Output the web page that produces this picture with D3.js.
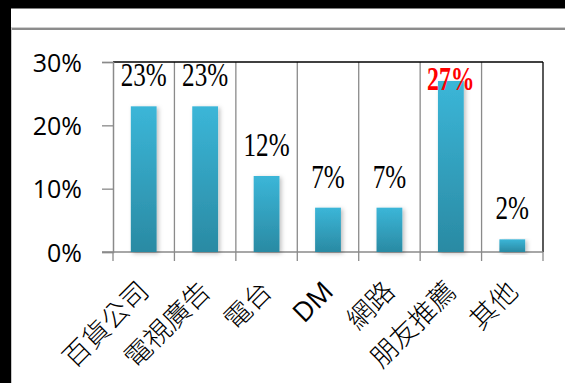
<!DOCTYPE html>
<html>
<head>
<meta charset="utf-8">
<script src="https://cdn.jsdelivr.net/npm/d3@7"></script>
<style>
  html, body { margin: 0; padding: 0; background: #fff; }
  svg { display: block; }
</style>
</head>
<body>
<svg id="chart" width="565" height="383"></svg>
<script>
// Survey: where respondents heard about us (share of answers)
const categories = ["百貨公司", "電視廣告", "電台", "DM", "網路", "朋友推薦", "其他"];
const values = [23, 23, 12, 7, 7, 27, 2];
const yTicks = [0, 10, 20, 30];
const yTickLabels = ["0%", "10%", "20%", "30%"];
const highlight = "朋友推薦";

const svg = d3.select("#chart");
const W = 565, H = 383;
const plot = { left: 113, right: 543, top: 62, bottom: 252 };

// Window frame
svg.append("rect").attr("x", 0).attr("y", 0).attr("width", W).attr("height", 8.5).attr("fill", "#000");
svg.append("rect").attr("x", 0).attr("y", 0).attr("width", 11).attr("height", H).attr("fill", "#000");
svg.append("line").attr("x1", 11).attr("x2", W).attr("y1", 27.5).attr("y2", 27.5).attr("stroke", "#cfcfcf").attr("stroke-width", 1);
svg.append("line").attr("x1", 11).attr("x2", W).attr("y1", 29).attr("y2", 29).attr("stroke", "#8c8c8c").attr("stroke-width", 2);
svg.append("line").attr("x1", 11.5).attr("x2", 11.5).attr("y1", 28).attr("y2", H).attr("stroke", "#c8c8c8").attr("stroke-width", 1);

const x = d3.scaleBand().domain(categories).range([plot.left, plot.right]).padding(0);
const y = d3.scaleLinear().domain([0, 30]).range([plot.bottom, plot.top]);

const defs = svg.append("defs");
const grad = defs.append("linearGradient").attr("id", "barGrad")
  .attr("x1", 0).attr("y1", 0).attr("x2", 0).attr("y2", 1);
grad.append("stop").attr("offset", "0%").attr("stop-color", "#3bb6d8");
grad.append("stop").attr("offset", "100%").attr("stop-color", "#2a8aa3");
const shadow = defs.append("filter").attr("id", "barShadow")
  .attr("x", "-30%").attr("y", "-10%").attr("width", "160%").attr("height", "130%");
shadow.append("feDropShadow").attr("dx", 2).attr("dy", 1.5).attr("stdDeviation", 2)
  .attr("flood-color", "#000").attr("flood-opacity", 0.25);

// Vertical gridlines at category boundaries
const bounds = categories.map(c => x(c)).concat([plot.right]);
svg.append("g").selectAll("line").data(bounds.slice(1, -1)).join("line")
  .attr("x1", d => d).attr("x2", d => d)
  .attr("y1", plot.top).attr("y2", plot.bottom)
  .attr("stroke", "#8a8a8a").attr("stroke-width", 1.3);

// Plot border (top and right)
svg.append("line").attr("x1", plot.left).attr("x2", plot.right).attr("y1", plot.top).attr("y2", plot.top)
  .attr("stroke", "#000").attr("stroke-width", 1.3);
svg.append("line").attr("x1", plot.right).attr("x2", plot.right).attr("y1", plot.top).attr("y2", plot.bottom)
  .attr("stroke", "#000").attr("stroke-width", 1.3);

// Y axis
const yAxis = svg.append("g").attr("transform", `translate(${plot.left},0)`)
  .call(d3.axisLeft(y).tickValues(yTicks).tickSize(11).tickFormat((d, i) => yTickLabels[i]));
yAxis.select(".domain").attr("stroke", "#8a8a8a").attr("stroke-width", 1.5);
yAxis.selectAll(".tick line").attr("stroke", "#8a8a8a").attr("stroke-width", 1.3);
yAxis.selectAll(".tick text")
  .attr("x", -31).attr("dy", "0.36em")
  .attr("font-family", "'Open Sans', 'Liberation Sans', sans-serif")
  .attr("font-size", 25).attr("fill", "#000");

// X axis with ticks at category boundaries
const xAxis = svg.append("g").attr("transform", `translate(0,${plot.bottom})`);
xAxis.append("line").attr("x1", plot.left - 11).attr("x2", plot.right)
  .attr("stroke", "#8a8a8a").attr("stroke-width", 1.5);
xAxis.selectAll("line.tk").data(bounds).join("line").attr("class", "tk")
  .attr("x1", d => d).attr("x2", d => d).attr("y1", 0).attr("y2", 9)
  .attr("stroke", "#8a8a8a").attr("stroke-width", 1.3);

// Category labels, rotated
const cx = c => x(c) + x.bandwidth() / 2;
svg.append("g").selectAll("text").data(categories).join("text")
  .attr("transform", c => `translate(${cx(c) + 7},${293}) rotate(-45)`)
  .attr("text-anchor", "end")
  .attr("font-family", "'Open Sans', 'Noto Sans CJK TC', sans-serif")
  .attr("font-weight", c => c === "DM" ? 400 : 300)
  .attr("font-size", 27)
  .attr("fill", "#000")
  .text(c => c);

// Bars
const barW = x.bandwidth() * 0.42;
svg.append("g").selectAll("rect").data(values).join("rect")
  .attr("x", (d, i) => cx(categories[i]) - barW / 2)
  .attr("y", d => y(d))
  .attr("width", barW)
  .attr("height", d => y(0) - y(d))
  .attr("fill", "url(#barGrad)")
  .attr("filter", "url(#barShadow)");

// Value labels
svg.append("g").selectAll("text").data(values).join("text")
  .attr("transform", (d, i) => {
    const c = categories[i];
    const hi = c === highlight;
    const yy = hi ? y(d) + 9 : y(d) - 20;
    return `translate(${cx(c)},${yy}) scale(${hi ? 0.7 : 0.74},1)`;
  })
  .attr("text-anchor", "middle")
  .attr("font-family", "'Liberation Serif', 'DejaVu Serif', serif")
  .attr("font-size", (d, i) => categories[i] === highlight ? 34 : 34)
  .attr("font-weight", (d, i) => categories[i] === highlight ? 700 : 400)
  .attr("fill", (d, i) => categories[i] === highlight ? "#ff0000" : "#000")
  .text(d => d + "%");
</script>
</body>
</html>
